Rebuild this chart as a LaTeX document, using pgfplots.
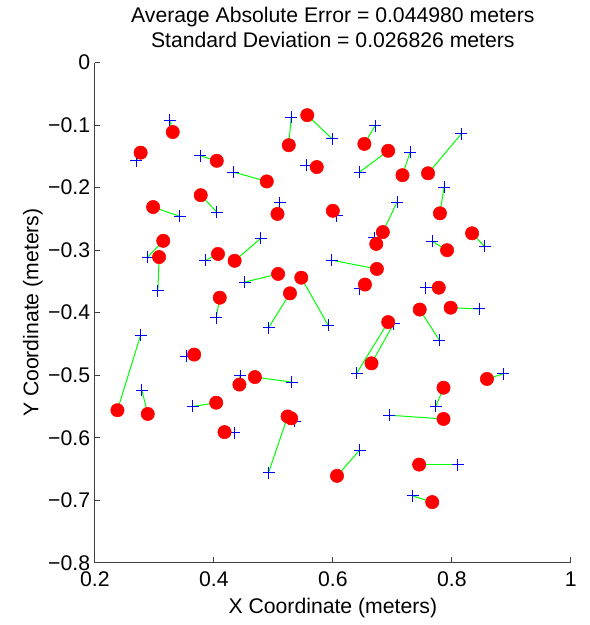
\documentclass[border=0pt]{standalone}
\usepackage{pgfplots}
\pgfplotsset{compat=1.18}
\usepackage{pgfplotstable}
\usepackage{fontspec}
\setmainfont{Liberation Sans}
\definecolor{mgreen}{RGB}{0,255,0}
\pgfplotstableread{
bx by rx ry
0.270 -0.157 0.277 -0.144
0.326 -0.092 0.331 -0.111
0.377 -0.149 0.405 -0.157
0.433 -0.175 0.489 -0.190
0.343 -0.246 0.298 -0.231
0.405 -0.239 0.378 -0.212
0.530 -0.087 0.526 -0.132
0.599 -0.122 0.557 -0.084
0.555 -0.164 0.573 -0.167
0.511 -0.224 0.507 -0.242
0.607 -0.245 0.600 -0.237
0.671 -0.101 0.653 -0.130
0.645 -0.175 0.693 -0.141
0.730 -0.143 0.717 -0.180
0.816 -0.114 0.760 -0.177
0.787 -0.199 0.780 -0.241
0.708 -0.223 0.684 -0.271
0.289 -0.311 0.315 -0.285
0.306 -0.365 0.308 -0.311
0.386 -0.316 0.407 -0.306
0.479 -0.281 0.435 -0.317
0.452 -0.351 0.508 -0.338
0.592 -0.420 0.547 -0.344
0.492 -0.424 0.528 -0.369
0.404 -0.408 0.410 -0.376
0.277 -0.436 0.238 -0.556
0.354 -0.470 0.367 -0.467
0.444 -0.501 0.443 -0.515
0.531 -0.511 0.469 -0.503
0.279 -0.524 0.289 -0.562
0.670 -0.280 0.673 -0.290
0.855 -0.294 0.834 -0.273
0.767 -0.286 0.792 -0.300
0.598 -0.316 0.674 -0.330
0.645 -0.362 0.654 -0.355
0.756 -0.360 0.778 -0.360
0.846 -0.394 0.798 -0.392
0.779 -0.444 0.746 -0.395
0.640 -0.497 0.693 -0.415
0.702 -0.418 0.665 -0.481
0.773 -0.550 0.786 -0.520
0.886 -0.498 0.859 -0.506
0.365 -0.550 0.404 -0.544
0.434 -0.592 0.418 -0.591
0.492 -0.656 0.524 -0.566
0.536 -0.574 0.530 -0.569
0.645 -0.620 0.607 -0.661
0.695 -0.564 0.786 -0.570
0.810 -0.643 0.745 -0.643
0.734 -0.693 0.767 -0.703
}\data
\newcommand{\fs}{\fontsize{15.9}{18.75}\selectfont}
\begin{document}
\begin{tikzpicture}
\begin{axis}[
  at={(0,0)}, anchor=south west,
  scale only axis, width=357pt, height=375pt,
  xmin=0.2, xmax=1, ymin=-0.8, ymax=0,
  axis lines*=left,
  axis line style={black!75, line width=0.8pt},
  tick align=inside,
  major tick length=4pt,
  tick style={black!75, line width=0.8pt},
  xtick={0.2,0.4,0.6,0.8,1},
  xticklabels={0.2,0.4,0.6,0.8,1},
  ytick={-0.8,-0.7,-0.6,-0.5,-0.4,-0.3,-0.2,-0.1,0},
  yticklabels={−0.8,−0.7,−0.6,−0.5,−0.4,−0.3,−0.2,−0.1,0},
  tick label style={font=\fs},
  xticklabel style={yshift=-3.5pt},
  label style={font=\fs},
  xlabel={X Coordinate (meters)},
  ylabel={Y Coordinate (meters)},
  xlabel style={at={(axis description cs:0.5,-0.091)}, anchor=center},
  ylabel style={at={(axis description cs:-0.13,0.5)}, anchor=center},
  title={Average Absolute Error = 0.044980 meters\\Standard Deviation = 0.026826 meters},
  title style={font=\fs, align=center, at={(axis description cs:0.5,1)}, anchor=south, yshift=2pt},
]
\addplot[only marks, blue, mark=+, mark size=4.5pt, mark options={line width=0.75pt}]
  table[x=bx, y=by]{\data};
\addplot[mgreen, line width=0.75pt,
  quiver={u=\thisrow{rx}-\thisrow{bx}, v=\thisrow{ry}-\thisrow{by}}]
  table[x=bx, y=by]{\data};
\addplot[only marks, red, mark=*, mark size=5pt, mark options={draw=none, fill=red}]
  table[x=rx, y=ry]{\data};
\end{axis}
\pgfresetboundingbox
\path[use as bounding box] ([shift={(-71.1pt,-46.7pt)}]current axis.south west) rectangle ([shift={(370.65pt,422pt)}]current axis.south west);
\end{tikzpicture}
\end{document}
